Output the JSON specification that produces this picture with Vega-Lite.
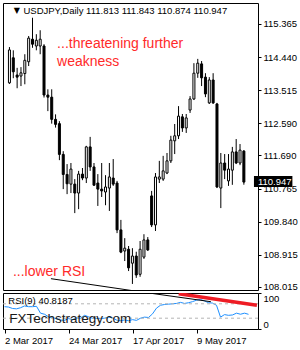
{
  "$schema": "https://vega.github.io/schema/vega-lite/v6.json",
  "padding": {"left": 2, "top": 2, "right": 0, "bottom": 0},
  "background": "white",
  "bounds": "flush",
  "spacing": 3,
  "config": {
    "view": {"stroke": "black", "strokeWidth": 1},
    "axis": {"labelFont": "Liberation Sans", "labelFontSize": 9.5, "labelColor": "black", "tickColor": "black", "domain": false, "grid": false, "labelOverlap": false, "labelBound": false, "labelFlush": false, "labelSeparation": 0},
    "axisY": {"labelOverlap": false},
    "axisRight": {"labelOverlap": false},
    "text": {"font": "Liberation Sans"}
  },
  "resolve": {"scale": {"x": "independent", "y": "independent"}},
  "datasets": {
    "candles": [
      {"i": 0, "date": "2 Mar 2017", "open": 113.72, "high": 114.72, "low": 113.69, "close": 114.64},
      {"i": 1, "date": "3 Mar 2017", "open": 114.42, "high": 114.63, "low": 113.85, "close": 114.03},
      {"i": 2, "date": "6 Mar 2017", "open": 113.94, "high": 114.14, "low": 113.57, "close": 113.88},
      {"i": 3, "date": "7 Mar 2017", "open": 113.91, "high": 114.16, "low": 113.63, "close": 114.00},
      {"i": 4, "date": "8 Mar 2017", "open": 113.98, "high": 114.52, "low": 113.68, "close": 114.35},
      {"i": 5, "date": "9 Mar 2017", "open": 114.31, "high": 115.03, "low": 114.19, "close": 114.97},
      {"i": 6, "date": "10 Mar 2017", "open": 114.94, "high": 115.54, "low": 114.70, "close": 114.80},
      {"i": 7, "date": "13 Mar 2017", "open": 114.75, "high": 115.08, "low": 114.63, "close": 114.91},
      {"i": 8, "date": "14 Mar 2017", "open": 114.75, "high": 115.19, "low": 114.52, "close": 114.94},
      {"i": 9, "date": "15 Mar 2017", "open": 114.75, "high": 114.80, "low": 113.31, "close": 113.38},
      {"i": 10, "date": "16 Mar 2017", "open": 113.38, "high": 113.54, "low": 112.93, "close": 113.32},
      {"i": 11, "date": "17 Mar 2017", "open": 113.32, "high": 113.54, "low": 112.58, "close": 112.70},
      {"i": 12, "date": "20 Mar 2017", "open": 112.70, "high": 112.84, "low": 112.47, "close": 112.56},
      {"i": 13, "date": "21 Mar 2017", "open": 112.58, "high": 112.65, "low": 111.56, "close": 111.72},
      {"i": 14, "date": "22 Mar 2017", "open": 111.72, "high": 111.81, "low": 110.75, "close": 111.16},
      {"i": 15, "date": "23 Mar 2017", "open": 111.16, "high": 111.45, "low": 110.61, "close": 110.90},
      {"i": 16, "date": "24 Mar 2017", "open": 110.89, "high": 111.48, "low": 110.64, "close": 111.31},
      {"i": 17, "date": "27 Mar 2017", "open": 110.89, "high": 111.03, "low": 110.08, "close": 110.64},
      {"i": 18, "date": "28 Mar 2017", "open": 110.64, "high": 111.26, "low": 110.19, "close": 111.17},
      {"i": 19, "date": "29 Mar 2017", "open": 111.17, "high": 111.34, "low": 111.00, "close": 111.06},
      {"i": 20, "date": "30 Mar 2017", "open": 111.06, "high": 111.96, "low": 110.92, "close": 111.93},
      {"i": 21, "date": "31 Mar 2017", "open": 111.93, "high": 112.21, "low": 111.26, "close": 111.37},
      {"i": 22, "date": "3 Apr 2017", "open": 111.37, "high": 111.48, "low": 110.84, "close": 110.86},
      {"i": 23, "date": "4 Apr 2017", "open": 110.92, "high": 111.17, "low": 110.28, "close": 110.75},
      {"i": 24, "date": "5 Apr 2017", "open": 110.75, "high": 111.48, "low": 110.53, "close": 110.70},
      {"i": 25, "date": "6 Apr 2017", "open": 110.67, "high": 111.14, "low": 110.30, "close": 110.81},
      {"i": 26, "date": "7 Apr 2017", "open": 110.78, "high": 111.48, "low": 110.14, "close": 111.09},
      {"i": 27, "date": "10 Apr 2017", "open": 111.06, "high": 111.59, "low": 110.84, "close": 110.89},
      {"i": 28, "date": "11 Apr 2017", "open": 110.92, "high": 110.98, "low": 109.52, "close": 109.61},
      {"i": 29, "date": "12 Apr 2017", "open": 109.61, "high": 109.89, "low": 108.96, "close": 108.99},
      {"i": 30, "date": "13 Apr 2017", "open": 109.02, "high": 109.38, "low": 108.74, "close": 109.10},
      {"i": 31, "date": "14 Apr 2017", "open": 109.07, "high": 109.16, "low": 108.46, "close": 108.55},
      {"i": 32, "date": "17 Apr 2017", "open": 108.68, "high": 109.10, "low": 108.10, "close": 108.88},
      {"i": 33, "date": "18 Apr 2017", "open": 108.88, "high": 109.00, "low": 108.27, "close": 108.35},
      {"i": 34, "date": "19 Apr 2017", "open": 108.37, "high": 109.30, "low": 108.30, "close": 109.07},
      {"i": 35, "date": "20 Apr 2017", "open": 108.85, "high": 109.49, "low": 108.80, "close": 109.33},
      {"i": 36, "date": "21 Apr 2017", "open": 109.33, "high": 109.41, "low": 109.02, "close": 109.05},
      {"i": 37, "date": "24 Apr 2017", "open": 110.56, "high": 110.70, "low": 109.69, "close": 109.75},
      {"i": 38, "date": "25 Apr 2017", "open": 109.75, "high": 111.20, "low": 109.58, "close": 111.09},
      {"i": 39, "date": "26 Apr 2017", "open": 111.03, "high": 111.54, "low": 110.92, "close": 111.09},
      {"i": 40, "date": "27 Apr 2017", "open": 111.03, "high": 111.68, "low": 110.98, "close": 111.26},
      {"i": 41, "date": "28 Apr 2017", "open": 111.20, "high": 111.76, "low": 111.17, "close": 111.54},
      {"i": 42, "date": "1 May 2017", "open": 111.54, "high": 112.24, "low": 111.48, "close": 112.12},
      {"i": 43, "date": "2 May 2017", "open": 112.10, "high": 112.57, "low": 111.73, "close": 112.24},
      {"i": 44, "date": "3 May 2017", "open": 112.24, "high": 113.07, "low": 112.15, "close": 112.79},
      {"i": 45, "date": "4 May 2017", "open": 112.77, "high": 112.85, "low": 112.35, "close": 112.46},
      {"i": 46, "date": "5 May 2017", "open": 112.46, "high": 112.85, "low": 112.32, "close": 112.74},
      {"i": 47, "date": "8 May 2017", "open": 112.96, "high": 113.35, "low": 112.88, "close": 113.27},
      {"i": 48, "date": "9 May 2017", "open": 113.27, "high": 114.27, "low": 113.24, "close": 113.99},
      {"i": 49, "date": "10 May 2017", "open": 113.99, "high": 114.39, "low": 113.86, "close": 114.27},
      {"i": 50, "date": "11 May 2017", "open": 114.25, "high": 114.33, "low": 113.63, "close": 113.86},
      {"i": 51, "date": "12 May 2017", "open": 113.88, "high": 113.99, "low": 113.32, "close": 113.41},
      {"i": 52, "date": "15 May 2017", "open": 113.16, "high": 113.88, "low": 113.13, "close": 113.80},
      {"i": 53, "date": "16 May 2017", "open": 113.80, "high": 113.99, "low": 113.13, "close": 113.16},
      {"i": 54, "date": "17 May 2017", "open": 113.13, "high": 113.16, "low": 110.78, "close": 110.81},
      {"i": 55, "date": "18 May 2017", "open": 110.78, "high": 111.76, "low": 110.22, "close": 111.48},
      {"i": 56, "date": "19 May 2017", "open": 111.48, "high": 111.73, "low": 111.03, "close": 111.28},
      {"i": 57, "date": "22 May 2017", "open": 110.98, "high": 111.73, "low": 110.84, "close": 111.31},
      {"i": 58, "date": "23 May 2017", "open": 111.28, "high": 111.93, "low": 110.87, "close": 111.79},
      {"i": 59, "date": "24 May 2017", "open": 111.79, "high": 112.15, "low": 111.45, "close": 111.48},
      {"i": 60, "date": "25 May 2017", "open": 111.48, "high": 112.01, "low": 111.42, "close": 111.84},
      {"i": 61, "date": "26 May 2017", "open": 111.813, "high": 111.843, "low": 110.874, "close": 110.947}
    ],
    "rsi": [
      {"i": 0, "rsi": 62}, {"i": 1, "rsi": 61}, {"i": 2, "rsi": 57}, {"i": 3, "rsi": 56},
      {"i": 4, "rsi": 59}, {"i": 5, "rsi": 64}, {"i": 6, "rsi": 62}, {"i": 7, "rsi": 62},
      {"i": 8, "rsi": 63}, {"i": 9, "rsi": 44}, {"i": 10, "rsi": 41}, {"i": 11, "rsi": 34},
      {"i": 12, "rsi": 32}, {"i": 13, "rsi": 28}, {"i": 14, "rsi": 25}, {"i": 15, "rsi": 24},
      {"i": 16, "rsi": 29}, {"i": 17, "rsi": 26}, {"i": 18, "rsi": 31}, {"i": 19, "rsi": 30},
      {"i": 20, "rsi": 38}, {"i": 21, "rsi": 34}, {"i": 22, "rsi": 30}, {"i": 23, "rsi": 29},
      {"i": 24, "rsi": 29}, {"i": 25, "rsi": 30}, {"i": 26, "rsi": 33}, {"i": 27, "rsi": 31},
      {"i": 28, "rsi": 25}, {"i": 29, "rsi": 23}, {"i": 30, "rsi": 25}, {"i": 31, "rsi": 23},
      {"i": 32, "rsi": 26}, {"i": 33, "rsi": 24}, {"i": 34, "rsi": 30}, {"i": 35, "rsi": 33},
      {"i": 36, "rsi": 32}, {"i": 37, "rsi": 42}, {"i": 38, "rsi": 58}, {"i": 39, "rsi": 66},
      {"i": 40, "rsi": 68}, {"i": 41, "rsi": 69}, {"i": 42, "rsi": 70}, {"i": 43, "rsi": 71},
      {"i": 44, "rsi": 74}, {"i": 45, "rsi": 71}, {"i": 46, "rsi": 73}, {"i": 47, "rsi": 76},
      {"i": 48, "rsi": 80}, {"i": 49, "rsi": 82}, {"i": 50, "rsi": 78}, {"i": 51, "rsi": 73},
      {"i": 52, "rsi": 72}, {"i": 53, "rsi": 66}, {"i": 54, "rsi": 33}, {"i": 55, "rsi": 40},
      {"i": 56, "rsi": 38}, {"i": 57, "rsi": 39}, {"i": 58, "rsi": 44}, {"i": 59, "rsi": 41},
      {"i": 60, "rsi": 44}, {"i": 61, "rsi": 40.8187}
    ],
    "trend_main": [
      {"i": 10.8, "price": 108.247},
      {"i": 51.6, "price": 107.604}
    ],
    "trend_rsi_black": [
      {"i": 10.8, "rsi": 139.7},
      {"i": 51.6, "rsi": 75.8}
    ],
    "trend_rsi_red": [
      {"i": 43.55, "rsi": 98},
      {"i": 63.1, "rsi": 65.8}
    ],
    "one": [{}]
  },
  "vconcat": [
    {
      "width": 255,
      "height": 287,
      "layer": [
        {
          "data": {"name": "candles"},
          "mark": {"type": "rule", "color": "black", "strokeWidth": 1},
          "encoding": {
            "x": {"field": "i", "type": "quantitative", "title": null, "scale": {"domain": [-0.375, 63.375], "nice": false, "zero": false}, "axis": null},
            "y": {"field": "low", "type": "quantitative", "title": null, "scale": {"domain": [107.9307, 115.9519], "nice": false, "zero": false},
                  "axis": {"orient": "right", "values": [115.365, 114.44, 113.515, 112.59, 111.69, 110.765, 109.84, 108.915, 108.015], "format": ".3f", "tickSize": 3, "labelPadding": 2, "labelOverlap": false, "tickCount": 20}},
            "y2": {"field": "high"}
          }
        },
        {
          "data": {"name": "candles"},
          "mark": {"type": "bar", "width": 2, "stroke": "black", "strokeWidth": 1},
          "encoding": {
            "x": {"field": "i", "type": "quantitative", "title": null},
            "y": {"field": "open", "type": "quantitative", "title": null},
            "y2": {"field": "close"},
            "fill": {"condition": {"test": "datum.close >= datum.open", "value": "white"}, "value": "black"}
          }
        },
        {
          "data": {"name": "trend_main"},
          "mark": {"type": "line", "color": "black", "strokeWidth": 1, "clip": true},
          "encoding": {
            "x": {"field": "i", "type": "quantitative", "title": null},
            "y": {"field": "price", "type": "quantitative", "title": null}
          }
        },
        {
          "data": {"name": "one"},
          "mark": {"type": "text", "text": "▼", "fontSize": 8, "align": "left", "baseline": "middle", "color": "black", "font": "DejaVu Sans"},
          "encoding": {"x": {"datum": 1.1}, "y": {"datum": 115.728}}
        },
        {
          "data": {"name": "one"},
          "mark": {"type": "text", "text": "USDJPY,Daily  111.813 111.843 110.874 110.947", "fontSize": 9.5, "align": "left", "baseline": "middle", "color": "black"},
          "encoding": {"x": {"datum": 3.65}, "y": {"datum": 115.728}}
        },
        {
          "data": {"name": "one"},
          "mark": {"type": "text", "text": "...threatening further", "fontSize": 14, "align": "left", "baseline": "middle", "color": "#ff2a2a"},
          "encoding": {"x": {"datum": 12.4}, "y": {"datum": 114.814}}
        },
        {
          "data": {"name": "one"},
          "mark": {"type": "text", "text": "weakness", "fontSize": 14, "align": "left", "baseline": "middle", "color": "#ff2a2a"},
          "encoding": {"x": {"datum": 12.4}, "y": {"datum": 114.311}}
        },
        {
          "data": {"name": "one"},
          "mark": {"type": "text", "text": "...lower RSI", "fontSize": 14, "align": "left", "baseline": "middle", "color": "#ff2a2a"},
          "encoding": {"x": {"datum": 0.9}, "y": {"datum": 108.442}}
        },
        {
          "data": {"name": "one"},
          "mark": {"type": "rect", "color": "black"},
          "encoding": {"x": {"datum": 63.625}, "x2": {"datum": 73.625}, "y": {"datum": 111.117}, "y2": {"datum": 110.809}}
        },
        {
          "data": {"name": "one"},
          "mark": {"type": "text", "text": "110.947", "fontSize": 9.5, "align": "left", "baseline": "middle", "color": "white", "dx": 4},
          "encoding": {"x": {"datum": 63.625}, "y": {"datum": 110.947}}
        }
      ]
    },
    {
      "width": 255,
      "height": 36,
      "layer": [
        {
          "data": {"name": "rsi"},
          "mark": {"type": "line", "color": "#1e90ff", "strokeWidth": 1},
          "encoding": {
            "x": {"field": "i", "type": "quantitative", "title": null, "scale": {"domain": [-0.375, 63.375], "nice": false, "zero": false},
                  "axis": {"orient": "bottom", "values": [0, 16, 32, 48], "labelExpr": "datum.value == 0 ? '2 Mar 2017' : datum.value == 16 ? '24 Mar 2017' : datum.value == 32 ? '17 Apr 2017' : '9 May 2017'", "tickSize": 4, "labelAlign": "left", "labelPadding": 2, "labelOverlap": false}},
            "y": {"field": "rsi", "type": "quantitative", "title": null, "scale": {"domain": [0, 100], "nice": false, "zero": false},
                  "axis": {"orient": "right", "values": [0, 30, 70, 100], "tickSize": 3, "labelPadding": 2, "labelOverlap": false,
                           "labelBaseline": {"condition": [{"test": "datum.value == 100", "value": "top"}, {"test": "datum.value == 0", "value": "bottom"}], "value": "middle"}}}
          }
        },
        {
          "data": {"name": "one"},
          "mark": {"type": "rule", "color": "#b4b4b4", "strokeDash": [3, 3], "strokeWidth": 1},
          "encoding": {"y": {"datum": 70}}
        },
        {
          "data": {"name": "one"},
          "mark": {"type": "rule", "color": "#b4b4b4", "strokeDash": [3, 3], "strokeWidth": 1},
          "encoding": {"y": {"datum": 30}}
        },
        {
          "data": {"name": "trend_rsi_black"},
          "mark": {"type": "line", "color": "black", "strokeWidth": 1, "clip": true},
          "encoding": {
            "x": {"field": "i", "type": "quantitative", "title": null},
            "y": {"field": "rsi", "type": "quantitative", "title": null}
          }
        },
        {
          "data": {"name": "trend_rsi_red"},
          "mark": {"type": "line", "color": "#ee1c24", "strokeWidth": 3.5, "clip": true},
          "encoding": {
            "x": {"field": "i", "type": "quantitative", "title": null},
            "y": {"field": "rsi", "type": "quantitative", "title": null}
          }
        },
        {
          "data": {"name": "one"},
          "mark": {"type": "text", "text": "RSI(9) 40.8187", "fontSize": 9.5, "align": "left", "baseline": "middle", "color": "black"},
          "encoding": {"x": {"datum": 0.95}, "y": {"datum": 77.8}}
        },
        {
          "data": {"name": "one"},
          "mark": {"type": "text", "text": "FXTechstrategy.com", "fontSize": 13.5, "align": "left", "baseline": "middle", "color": "#1a1a1a"},
          "encoding": {"x": {"datum": 1.2}, "y": {"datum": 27.8}}
        }
      ]
    }
  ]
}
